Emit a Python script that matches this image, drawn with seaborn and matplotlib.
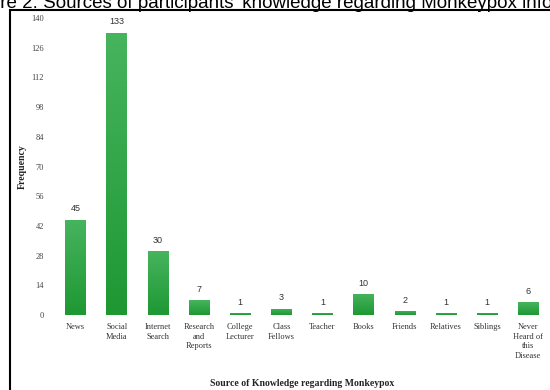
import numpy as np
import pandas as pd
import matplotlib
matplotlib.use("Agg")
import matplotlib.pyplot as plt
import seaborn as sns
from matplotlib.patches import Rectangle
from matplotlib.colors import LinearSegmentedColormap

sources = ["News", "Social\nMedia", "Internet\nSearch", "Research\nand\nReports",
           "College\nLecturer", "Class\nFellows", "Teacher", "Books", "Friends",
           "Relatives", "Siblings", "Never\nHeard of\nthis\nDisease"]
frequency = [45, 133, 30, 7, 1, 3, 1, 10, 2, 1, 1, 6]
y_ticks = [0, 14, 28, 42, 56, 70, 84, 98, 112, 126, 140]

df = pd.DataFrame({"source": sources, "frequency": frequency})

sns.set_theme(style="white")
plt.rcParams["font.family"] = ["Liberation Serif", "DejaVu Serif"]

fig = plt.figure(figsize=(5.5, 3.9), dpi=100)
ax = fig.add_axes([0.1, 0.192, 0.898, 0.762])

sns.barplot(data=df, x="source", y="frequency", color="#2aa53e",
            width=0.5, saturation=1, ax=ax, zorder=2)

# vertical green gradient inside each bar
cmap = LinearSegmentedColormap.from_list("g", ["#47b45e", "#1e9833"])
grad = np.linspace(0, 1, 256).reshape(-1, 1)
for p in ax.patches:
    x0, y0 = p.get_x(), p.get_y()
    w, h = p.get_width(), p.get_height()
    im = ax.imshow(grad, cmap=cmap, aspect="auto", extent=[x0, x0 + w, y0, y0 + h],
                   origin="upper", zorder=3)
    im.set_clip_path(p)

for i, v in enumerate(frequency):
    ax.text(i, v + 3, str(v), ha="center", va="bottom", fontsize=6.5,
            family="Liberation Sans", color="#333333")

ax.set_xlim(-0.5, 11.5)
ax.set_ylim(0, 140)
ax.set_yticks(y_ticks)
ax.set_yticklabels([str(t) for t in y_ticks], fontsize=6, color="#444444")
ax.set_xticks(range(len(sources)))
ax.set_xticklabels(sources, fontsize=6, color="#333333", linespacing=1.25)
ax.tick_params(axis="x", length=0, pad=6)
ax.tick_params(axis="y", length=0, pad=8)
for s in ax.spines.values():
    s.set_visible(False)
ax.axhline(0, color="#dddddd", lw=0.6, zorder=1)

ax.set_xlabel("Source of Knowledge regarding Monkeypox", fontsize=7,
              fontweight="bold", color="#222222", labelpad=14)
ax.set_ylabel("Frequency", fontsize=7, fontweight="bold", color="#222222", labelpad=3)

# frame around the figure panel and caption above it
fig.patches.append(Rectangle((10 / 550, -0.05), 1.0, (380 / 390) + 0.05,
                             transform=fig.transFigure, fill=False,
                             edgecolor="black", lw=1.5, zorder=10))
fig.text(-36 / 550, 1 - 7.5 / 390,
         "Figure 2: Sources of participants' knowledge regarding Monkeypox information",
         family="Liberation Sans", fontsize=13.5, color="black", va="baseline", ha="left")

fig.savefig("out.png", dpi=100)
